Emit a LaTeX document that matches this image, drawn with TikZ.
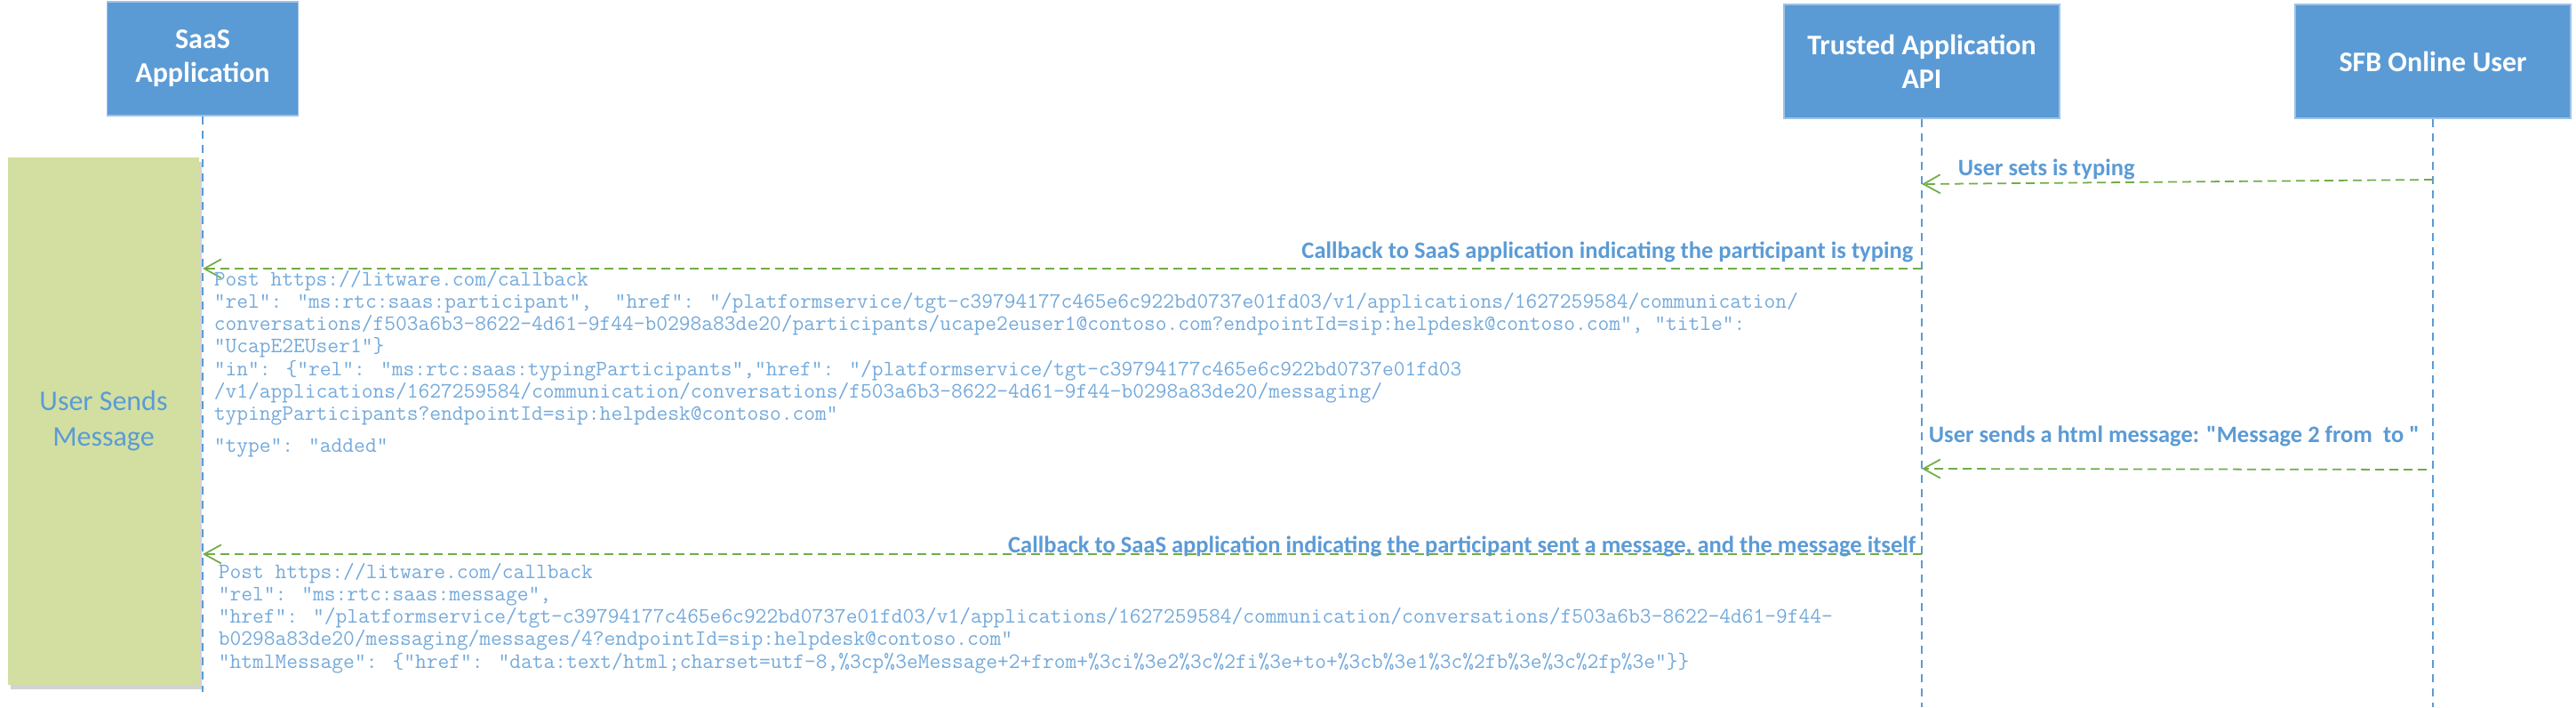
\documentclass[tikz,border=0pt]{standalone}
\usepackage{fontspec}
\setmainfont{Carlito}[Ligatures=TeXOff]
\usetikzlibrary{arrows.meta, positioning, shadows}
\definecolor{cblue}{HTML}{5B9BD5}
\definecolor{cgreen}{HTML}{70AD47}
\definecolor{clime}{HTML}{D2DFA1}
\tikzset{
  every picture/.style={line width=1pt},
  actor/.style={draw=cblue!60!white, fill=cblue, text=white, align=center, inner sep=0pt, minimum height=2.56cm, font=\fontsize{18.2}{21.6}\selectfont\bfseries},
  life/.style={draw=cblue, line width=1pt, dash pattern=on 0.19cm off 0.13cm},
  msg/.style={-{Straight Barb[length=0.38cm, width=0.42cm]}, draw=cgreen, line width=1pt, dash pattern=on 0.2cm off 0.12cm},
  lbl/.style={text=cblue, inner sep=0pt, font=\fontsize{15.1}{18}\selectfont\bfseries},
  payload/.style={text=cblue!85!white, inner sep=0pt, align=left, anchor=north west, font=\fontsize{14.1}{14.4}\selectfont\ttfamily},
}
\begin{document}
\begin{tikzpicture}
  \useasboundingbox (0,0) rectangle (57.96,15.9);

  % lifeline heads
  \node[actor, minimum width=4.3cm] (saas) at (4.56,14.58) {SaaS\\Application};
  \node[actor, minimum width=6.2cm] (api)  at (43.24,14.52) {Trusted Application\\API};
  \node[actor, minimum width=6.2cm] (sfb)  at (54.74,14.52) {SFB Online User};

  % activity
  \node[fill=clime, drop shadow={shadow xshift=0.06cm, shadow yshift=-0.1cm, opacity=0.35},
        minimum width=4.3cm, minimum height=11.86cm, inner sep=0pt, align=center,
        text=cblue, font=\fontsize{18.2}{22.8}\selectfont] (act) at (2.33,6.43) {User Sends\\Message};

  % lifelines
  \coordinate (saas-end) at (4.56,0.34);
  \coordinate (api-end)  at (43.24,0);
  \coordinate (sfb-end)  at (54.74,0);
  \draw[life] (saas.south) -- (saas-end);
  \draw[life] (api.south) -- (api-end);
  \draw[life] (sfb.south) -- (sfb-end);

  % user starts typing
  \coordinate (typ-a) at (54.74,11.86);
  \coordinate (typ-b) at (43.24,11.76);
  \draw[msg] (typ-a) -- (typ-b);
  \node[lbl, anchor=base west] (typ-l) at (44.04,11.94) {User sets is typing};

  % callback: typing
  \coordinate (cb1-a) at (43.24,9.86);
  \coordinate (cb1-b) at (4.56,9.86);
  \draw[msg] (cb1-a) -- (cb1-b);
  \node[lbl, anchor=base east] (cb1-l) at (43.06,10.08) {Callback to SaaS application indicating the participant is typing};
  \node[payload] (cb1-p) at (4.8,9.84) {Post https://litware.com/callback\\
"rel": "ms:rtc:saas:participant",\ \ "href": "/platformservice/tgt-c39794177c465e6c922bd0737e01fd03/v1/applications/1627259584/communication/\\
conversations/f503a6b3-8622-4d61-9f44-b0298a83de20/participants/ucape2euser1@contoso.com?endpointId=sip:helpdesk@contoso.com", "title":\\
"UcapE2EUser1"\}\\
"in": \{"rel": "ms:rtc:saas:typingParticipants","href": "/platformservice/tgt-c39794177c465e6c922bd0737e01fd03\\
/v1/applications/1627259584/communication/conversations/f503a6b3-8622-4d61-9f44-b0298a83de20/messaging/\\
typingParticipants?endpointId=sip:helpdesk@contoso.com"\\[6.1pt]
"type": "added"};

  % user sends message
  \coordinate (snd-a) at (54.6,5.34);
  \coordinate (snd-b) at (43.24,5.36);
  \draw[msg] (snd-a) -- (snd-b);
  \node[lbl, anchor=base west] (snd-l) at (43.38,5.94) {User sends a html message: "Message 2 from\ \ to\ "};

  % callback: message
  \coordinate (cb2-a) at (43.24,3.44);
  \coordinate (cb2-b) at (4.56,3.44);
  \draw[msg] (cb2-a) -- (cb2-b);
  \node[lbl, anchor=base east] (cb2-l) at (43.12,3.48) {Callback to SaaS application indicating the participant sent a message, and the message itself};
  \node[payload] (cb2-p) at (4.9,3.26) {Post https://litware.com/callback\\
"rel": "ms:rtc:saas:message",\\
"href": "/platformservice/tgt-c39794177c465e6c922bd0737e01fd03/v1/applications/1627259584/communication/conversations/f503a6b3-8622-4d61-9f44-\\
b0298a83de20/messaging/messages/4?endpointId=sip:helpdesk@contoso.com"\\
"htmlMessage": \{"href": "data:text/html;charset=utf-8,\%3cp\%3eMessage+2+from+\%3ci\%3e2\%3c\%2fi\%3e+to+\%3cb\%3e1\%3c\%2fb\%3e\%3c\%2fp\%3e"\}\}};
\end{tikzpicture}
\end{document}
